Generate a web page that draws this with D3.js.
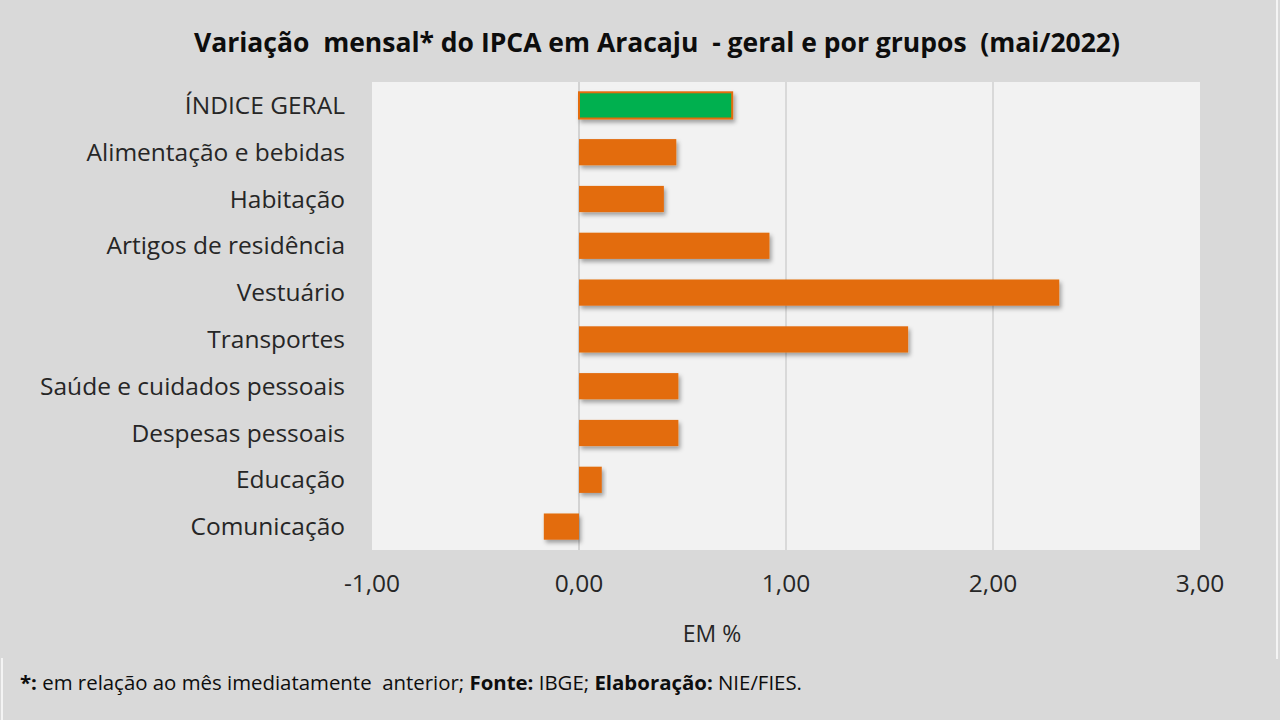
<!DOCTYPE html>
<html>
<head>
<meta charset="utf-8">
<script src="https://cdn.jsdelivr.net/npm/d3@7"></script>
<style>
  body { margin: 0; background: #d9d9d9; }
  svg { display: block; }
</style>
</head>
<body>
<div id="chart"></div>
<script>
// Data
const categories = [
  "ÍNDICE GERAL",
  "Alimentação e bebidas",
  "Habitação",
  "Artigos de residência",
  "Vestuário",
  "Transportes",
  "Saúde e cuidados pessoais",
  "Despesas pessoais",
  "Educação",
  "Comunicação"
];
const values = [0.74, 0.47, 0.41, 0.92, 2.32, 1.59, 0.48, 0.48, 0.11, -0.17];
const tickValues = [-1, 0, 1, 2, 3];

const width = 1280, height = 720;
const font = "'Open Sans', sans-serif";

const svg = d3.select("#chart")
  .append("svg")
    .attr("width", width)
    .attr("height", height);

// Drop shadow for the bars
const defs = svg.append("defs");
const shadow = defs.append("filter")
    .attr("id", "shadow")
    .attr("x", "-10%").attr("y", "-30%")
    .attr("width", "130%").attr("height", "180%");
shadow.append("feDropShadow")
    .attr("dx", 2).attr("dy", 3)
    .attr("stdDeviation", 2)
    .attr("flood-color", "#000")
    .attr("flood-opacity", 0.35);

// Background
svg.append("rect")
    .attr("width", width).attr("height", height)
    .attr("fill", "#d9d9d9");

// Thin frame lines between chart box and footer
svg.append("line")
    .attr("x1", 1277).attr("x2", 1277).attr("y1", 0).attr("y2", 659)
    .attr("stroke", "#f4f4f4").attr("stroke-width", 2);
svg.append("line")
    .attr("x1", 2).attr("x2", 2).attr("y1", 658).attr("y2", 720)
    .attr("stroke", "#f4f4f4").attr("stroke-width", 2);

// Scales
const x = d3.scaleLinear().domain([-1, 3]).range([372, 1200]);
const y = d3.scaleBand().domain(categories).range([82, 550]).paddingInner(0.44).paddingOuter(0.22);

// Plot area
svg.append("rect")
    .attr("x", x(-1)).attr("y", 82)
    .attr("width", x(3) - x(-1)).attr("height", 468)
    .attr("fill", "#f2f2f2");

// Gridlines
svg.append("g")
  .selectAll("line")
  .data(tickValues.filter(d => d > 0 && d < 3))
  .enter().append("line")
    .attr("x1", d => x(d)).attr("x2", d => x(d))
    .attr("y1", 82).attr("y2", 550)
    .attr("stroke", "#d0d0d0")
    .attr("stroke-width", 1.5);

// Zero line
svg.append("line")
    .attr("x1", x(0)).attr("x2", x(0))
    .attr("y1", 82).attr("y2", 550)
    .attr("stroke", "#c8c8c8")
    .attr("stroke-width", 1.5);

// Bars
svg.append("g")
  .selectAll("rect")
  .data(categories)
  .enter().append("rect")
    .attr("x", (d, i) => x(Math.min(0, values[i])))
    .attr("y", d => y(d))
    .attr("width", (d, i) => Math.abs(x(values[i]) - x(0)))
    .attr("height", y.bandwidth())
    .attr("fill", (d, i) => i === 0 ? "#00b050" : "#e36c0a")
    .attr("stroke", (d, i) => i === 0 ? "#e36c0a" : "none")
    .attr("stroke-width", 2)
    .attr("filter", "url(#shadow)");

// Category labels
svg.append("g")
  .selectAll("text")
  .data(categories)
  .enter().append("text")
    .attr("x", 345)
    .attr("y", d => y(d) + y.bandwidth() / 2)
    .attr("dy", "0.35em")
    .attr("text-anchor", "end")
    .style("font-family", font)
    .style("font-size", "24.5px")
    .style("fill", "#262626")
    .text(d => d);

// X tick labels
const fmt = d => d3.format(".2f")(d).replace(".", ",").replace("−", "-");
svg.append("g")
  .selectAll("text")
  .data(tickValues)
  .enter().append("text")
    .attr("x", d => x(d))
    .attr("y", 583)
    .attr("dy", "0.35em")
    .attr("text-anchor", "middle")
    .style("font-family", font)
    .style("font-size", "24.5px")
    .style("fill", "#262626")
    .text(fmt);

// Axis title
svg.append("text")
    .attr("x", 712)
    .attr("y", 634)
    .attr("dy", "0.35em")
    .attr("text-anchor", "middle")
    .style("font-family", font)
    .style("font-size", "23px")
    .style("fill", "#262626")
    .text("EM %");

// Title
svg.append("text")
    .attr("x", 657)
    .attr("y", 43)
    .attr("dy", "0.35em")
    .attr("text-anchor", "middle")
    .style("font-family", font)
    .style("font-size", "26.5px")
    .style("font-weight", "bold")
    .style("fill", "#0d0d0d")
    .style("white-space", "pre")
    .text("Variação  mensal* do IPCA em Aracaju  - geral e por grupos  (mai/2022)");

// Footer note
const note = svg.append("text")
    .attr("x", 20)
    .attr("y", 683)
    .attr("dy", "0.35em")
    .style("font-family", font)
    .style("font-size", "20.4px")
    .style("fill", "#0d0d0d")
    .style("white-space", "pre");
note.append("tspan").style("font-weight", "bold").text("*:");
note.append("tspan").text(" em relação ao mês imediatamente  anterior; ");
note.append("tspan").style("font-weight", "bold").text("Fonte:");
note.append("tspan").text(" IBGE; ");
note.append("tspan").style("font-weight", "bold").text("Elaboração:");
note.append("tspan").text(" NIE/FIES.");
</script>
</body>
</html>
